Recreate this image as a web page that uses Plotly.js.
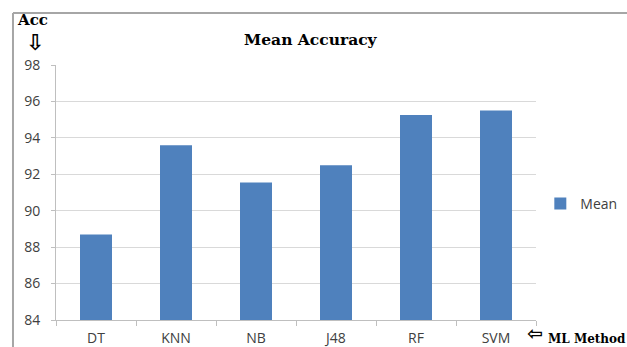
<!DOCTYPE html>
<html>
<head>
<meta charset="utf-8">
<script src="https://cdn.plot.ly/plotly-3.0.1.min.js"></script>
<style>
  html, body { margin: 0; padding: 0; background: #fff; }
  #chart { width: 627px; height: 347px; }
</style>
</head>
<body>
<div id="chart"></div>
<script>
// Mean accuracy per machine-learning method
const methods = ['DT', 'KNN', 'NB', 'J48', 'RF', 'SVM'];
const meanAcc = [88.7, 93.6, 91.55, 92.5, 95.25, 95.5];
const yTicks = [84, 86, 88, 90, 92, 94, 96, 98];

const textGray = '#404040';
const serif = '"DejaVu Serif", "Liberation Serif", serif';
const sans = '"Open Sans", "Liberation Sans", sans-serif';
const arrowFont = '"DejaVu Sans", sans-serif';

const trace = {
  type: 'bar',
  x: methods,
  y: meanAcc,
  name: 'Mean',
  marker: { color: '#4f81bd' },
  showlegend: true,
  hoverinfo: 'x+y'
};

const layout = {
  width: 627,
  height: 347,
  margin: { l: 56, r: 91, t: 65, b: 27, autoexpand: false },
  paper_bgcolor: '#ffffff',
  plot_bgcolor: '#ffffff',
  bargap: 0.6,
  showlegend: true,
  title: {
    text: '<b>Mean Accuracy</b>',
    font: { family: serif, size: 15.5, color: '#000' },
    x: 0.495, xanchor: 'center',
    y: 0.885, yanchor: 'middle'
  },
  xaxis: {
    type: 'category',
    tickson: 'boundaries',
    ticks: 'outside',
    ticklen: 5,
    tickcolor: '#bfbfbf',
    showline: true,
    linecolor: '#bfbfbf',
    linewidth: 1,
    showgrid: false,
    automargin: false,
    ticklabelstandoff: 5,
    tickfont: { family: sans, size: 14, color: textGray },
    fixedrange: true
  },
  yaxis: {
    range: [84, 98],
    tickvals: yTicks,
    ticks: 'outside',
    ticklen: 4,
    tickcolor: '#bfbfbf',
    showline: true,
    linecolor: '#bfbfbf',
    linewidth: 1,
    showgrid: true,
    gridcolor: '#d9d9d9',
    gridwidth: 1,
    zeroline: false,
    automargin: false,
    ticklabelstandoff: 8,
    tickfont: { family: sans, size: 14, color: textGray },
    fixedrange: true
  },
  legend: {
    x: 1.009, xanchor: 'left',
    y: 0.455, yanchor: 'middle',
    font: { family: sans, size: 14, color: textGray },
    itemwidth: 30,
    bgcolor: 'rgba(0,0,0,0)'
  },
  annotations: [
    {
      text: '<b>Acc</b>', xref: 'paper', yref: 'paper',
      x: -0.05, y: 1.176, xanchor: 'center', yanchor: 'middle',
      showarrow: false, font: { family: serif, size: 15, color: '#000' }
    },
    {
      text: '<b>⇩</b>', xref: 'paper', yref: 'paper',
      x: -0.044, y: 1.09, xanchor: 'center', yanchor: 'middle',
      showarrow: false, font: { family: arrowFont, size: 22, color: '#000' }
    },
    {
      text: '<b>⇦</b>', xref: 'paper', yref: 'paper',
      x: 0.998, y: -0.1, xanchor: 'center', yanchor: 'bottom',
      showarrow: false, font: { family: arrowFont, size: 19, color: '#000' }
    },
    {
      text: '<b>ML Method</b>', xref: 'paper', yref: 'paper',
      x: 1.021, y: -0.076, xanchor: 'left', yanchor: 'middle',
      showarrow: false, font: { family: serif, size: 12, color: '#000' }
    }
  ],
  shapes: [
    // outer chart frame (top and left edges)
    { type: 'line', xref: 'paper', yref: 'paper', x0: -0.0896, x1: 1.2, y0: 1.204, y1: 1.204,
      line: { color: '#a6a6a6', width: 2 } },
    { type: 'line', xref: 'paper', yref: 'paper', x0: -0.0896, x1: -0.0896, y0: 1.204, y1: -0.2,
      line: { color: '#a6a6a6', width: 2 } }
  ]
};

Plotly.newPlot('chart', [trace], layout, { displayModeBar: false, staticPlot: true });
</script>
</body>
</html>
